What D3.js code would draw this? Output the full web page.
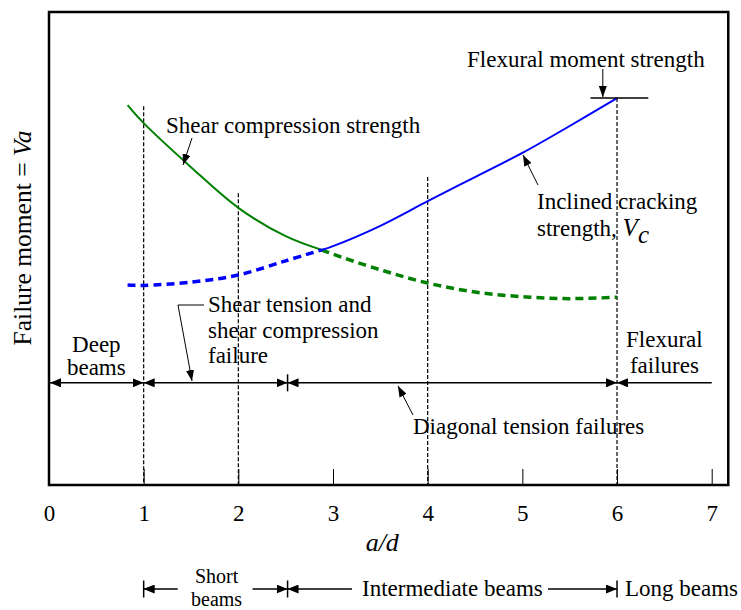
<!DOCTYPE html>
<meta charset="utf-8">
<head>
<style>
  body { margin: 0; background: #fff; }
  svg text { font-family: "Liberation Serif", "Times New Roman", serif; fill: #000; }
  .axis text { font-size: 23px; }
</style>
</head>
<body>
<script src="https://cdnjs.cloudflare.com/ajax/libs/d3/7.8.5/d3.min.js"></script>
<script>

const adRatio = [0.83, 1, 1.5, 2, 2.5, 2.88, 3, 3.5, 4, 4.5, 5, 5.5, 6];
// relative failure moment (0-100)
const shearCompression = [80.3, 76.5, 67.2, 58.6, 52.6, 49.7, 48.8, 45.5, 42.7, 40.8, 39.8, 39.4, 39.7];
const inclinedCracking = [42.3, 42.2, 42.9, 44.4, 47.4, 49.7, 50.5, 54.8, 60.0, 65.1, 70.2, 75.9, 81.8];
const crossIndex = 5; // where the two curves meet

const xTicks = [0, 1, 2, 3, 4, 5, 6, 7];
const guideAd = [1, 2, 4, 6];
const guideTop = [80.1, 61.7, 65.1, 81.8];
const flexuralStrength = 81.8;

const width = 741, height = 610;

const x = d3.scaleLinear().domain([0, 7]).range([49, 711.7]);
const y = d3.scaleLinear().domain([0, 100]).range([485, 12]);
const frameRight = x(7.175);

const svg = d3.select("body").append("svg")
  .attr("width", width)
  .attr("height", height);

const defs = svg.append("defs");
function marker(id, len, half) {
  defs.append("marker")
    .attr("id", id)
    .attr("viewBox", `0 ${-half} ${len} ${half * 2}`)
    .attr("refX", len).attr("refY", 0)
    .attr("markerUnits", "userSpaceOnUse")
    .attr("markerWidth", len).attr("markerHeight", half * 2)
    .attr("orient", "auto-start-reverse")
    .append("path")
      .attr("d", `M0,${-half}L${len},0L0,${half}Z`)
      .attr("fill", "#000");
}
marker("head", 11, 4.5);
marker("lead", 11, 4);

// guide lines
svg.append("g").selectAll("line")
  .data(guideAd)
  .join("line")
    .attr("x1", d => x(d)).attr("x2", d => x(d))
    .attr("y1", (d, i) => y(guideTop[i]))
    .attr("y2", y(0))
    .attr("stroke", "#000")
    .attr("stroke-width", 1.2)
    .attr("stroke-dasharray", "4,2");

// x axis with inward ticks
const xAxis = d3.axisBottom(x)
  .tickValues(xTicks)
  .tickSizeInner(-16)
  .tickSizeOuter(0)
  .tickPadding(20)
  .tickFormat(d3.format("d"));

const gx = svg.append("g")
  .attr("class", "axis")
  .attr("transform", `translate(0,${y(0)})`)
  .call(xAxis);
gx.select(".domain").remove();
gx.selectAll(".tick line").attr("stroke-width", 1);

// frame
svg.append("rect")
  .attr("x", x(0)).attr("y", y(100))
  .attr("width", frameRight - x(0))
  .attr("height", y(0) - y(100))
  .attr("fill", "none")
  .attr("stroke", "#000")
  .attr("stroke-width", 2.5);

// curves
const pts = (vals) => adRatio.map((a, i) => [a, vals[i]]);
const line = d3.line()
  .x(d => x(d[0]))
  .y(d => y(d[1]))
  .curve(d3.curveCatmullRom.alpha(0.5));

const green = pts(shearCompression);
const blue = pts(inclinedCracking);

svg.append("path").datum(green.slice(0, crossIndex + 1))
  .attr("d", line).attr("fill", "none")
  .attr("stroke", "#008000").attr("stroke-width", 2);
svg.append("path").datum(green.slice(crossIndex))
  .attr("d", line).attr("fill", "none")
  .attr("stroke", "#008000").attr("stroke-width", 3.5)
  .attr("stroke-dasharray", "8,5");
svg.append("path").datum(blue.slice(0, crossIndex + 1))
  .attr("d", line).attr("fill", "none")
  .attr("stroke", "#0000ff").attr("stroke-width", 3.5)
  .attr("stroke-dasharray", "8,5");
svg.append("path").datum(blue.slice(crossIndex))
  .attr("d", line).attr("fill", "none")
  .attr("stroke", "#0000ff").attr("stroke-width", 2);

// flexural moment strength cap
svg.append("line")
  .attr("x1", x(5.72)).attr("x2", x(6.33))
  .attr("y1", y(flexuralStrength)).attr("y2", y(flexuralStrength))
  .attr("stroke", "#000").attr("stroke-width", 1.5);

// helper for drawing leaders / arrows
function arrow(points, opts = {}) {
  const p = svg.append("path")
    .attr("d", d3.line()(points))
    .attr("fill", "none")
    .attr("stroke", "#000")
    .attr("stroke-width", opts.w || 1);
  if (opts.end) p.attr("marker-end", `url(#${opts.end})`);
  if (opts.start) p.attr("marker-start", `url(#${opts.start})`);
  return p;
}
function bar(px, cy, h) {
  svg.append("line")
    .attr("x1", px).attr("x2", px)
    .attr("y1", cy - h / 2).attr("y2", cy + h / 2)
    .attr("stroke", "#000").attr("stroke-width", 1.5);
}
function label(lines, px, py, anchor, size, lh) {
  const t = svg.append("text")
    .attr("x", px).attr("y", py)
    .attr("text-anchor", anchor || "start")
    .style("font-size", (size || 23) + "px");
  lines.forEach((s, i) => {
    t.append("tspan").attr("x", px).attr("dy", i ? (lh || 26) : 0).text(s);
  });
  return t;
}

// leader annotations
label(["Shear compression strength"], 166, 133);
arrow([[192, 138], [183, 165]], {end: "lead"});

label(["Flexural moment strength"], 467, 67);
arrow([[x(5.85), 69], [x(5.85), y(flexuralStrength) - 1]], {end: "lead"});

label(["Inclined cracking"], 537, 209);
const inc2 = svg.append("text").attr("x", 537).attr("y", 236).style("font-size", "23px");
inc2.append("tspan").text("strength, ");
inc2.append("tspan").style("font-style", "italic").style("font-size", "25px").text("V");
inc2.append("tspan").style("font-style", "italic").style("font-size", "25px").attr("dy", 7).text("c");
arrow([[538, 185], [523, 155]], {end: "lead"});

label(["Shear tension and", "shear compression", "failure"], 208, 312, "start", 23, 25.5);
arrow([[204, 305], [178, 305], [192, 381]], {end: "lead"});

label(["Diagonal tension failures"], 413, 434);
arrow([[413, 415], [398, 386]], {end: "lead"});

label(["Deep", "beams"], x(0.5), 352, "middle", 23, 23);
label(["Flexural", "failures"], x(6.5), 347, "middle", 23, 26);

// failure-region arrows
const rowY = y(21.6);
const split = 2.52;
arrow([[x(0) + 1, rowY], [x(1), rowY]], {start: "head", end: "head", w: 1.5});
arrow([[x(1), rowY], [x(split), rowY]], {start: "head", end: "head", w: 1.5});
bar(x(split), rowY, 17);
arrow([[x(split), rowY], [x(6), rowY]], {start: "head", end: "head", w: 1.5});
arrow([[x(7), rowY], [x(6), rowY]], {end: "head", w: 1.5});

// axis titles
svg.append("text")
  .attr("x", x(3.52)).attr("y", 551)
  .attr("text-anchor", "middle")
  .style("font-size", "26px")
  .style("font-style", "italic")
  .text("a/d");

const yt = svg.append("text")
  .attr("transform", "translate(31,238) rotate(-90)")
  .attr("text-anchor", "middle")
  .style("font-size", "25.5px");
yt.append("tspan").text("Failure moment = ");
yt.append("tspan").style("font-style", "italic").text("Va");

// beam classes row
const rowB = 589;
bar(x(1), rowB, 17);
arrow([[x(1.36), rowB], [x(1), rowB]], {end: "head", w: 1.5});
label(["Short", "beams"], x(1.77), 583, "middle", 20, 22.5);
arrow([[x(2.15), rowB], [x(split), rowB]], {end: "head", w: 1.5});
bar(x(split), rowB, 17);
arrow([[x(3.2), rowB], [x(split), rowB]], {end: "head", w: 1.5});
label(["Intermediate beams"], 362, 596);
arrow([[x(5.27), rowB], [x(6), rowB]], {end: "head", w: 1.5});
bar(x(6), rowB, 17);
label(["Long beams"], 625, 596);

</script>
</body>
